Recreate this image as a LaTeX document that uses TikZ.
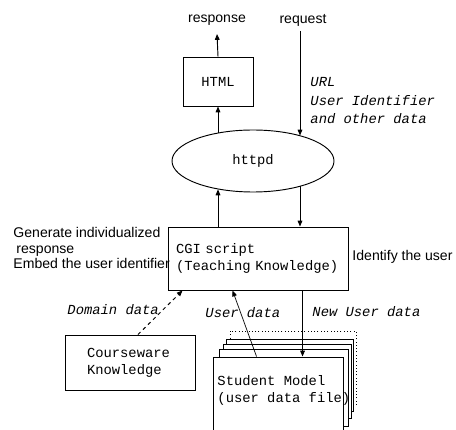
\documentclass[tikz,border=0pt]{standalone}
\usepackage{fontspec}
\setmainfont{Liberation Sans}
\setmonofont{Liberation Mono}
\usetikzlibrary{calc,shapes.geometric,arrows.meta}
\newlength\px
\setlength\px{0.03cm}

\begin{document}
\begin{tikzpicture}[x=\px, y=-\px, line width=0.8pt,
		arr/.style={-{Triangle[length=5pt,width=4pt]}},
		sanstext/.style={font=\fontsize{12}{13.4}\selectfont, inner sep=0pt},
		monotext/.style={font=\fontsize{11.8}{14.5}\selectfont\ttfamily, inner sep=0pt},
		monoslant/.style={font=\fontsize{11.8}{15.8}\selectfont\ttfamily\itshape, inner sep=0pt},
		box/.style={draw, fill=white, monotext}]
				\useasboundingbox (0,0) rectangle (456,430);
				\clip (0,0) rectangle (456,430);
				\node [box, minimum width=70\px, minimum height=49\px] (html) at (218,81.5) {HTML};
				\node [draw, ellipse, monotext, minimum width=162\px, minimum height=62\px] (httpd) at (253,161) {httpd};
				\node [box, minimum width=180\px, minimum height=63\px, text width=172\px, inner xsep=4\px, align=left] (cgi) at (258,258.5) {\hspace{4\px}CGI script\\\hspace{4\px}(Teaching Knowledge)};
				\node [box, minimum width=130\px, minimum height=55\px, text width=86\px, inner xsep=22\px, align=left] (course) at (130,362.5) {Courseware\\Knowledge};
				\draw [dotted, fill=white] (230,331) rectangle (356,405);
				\draw [fill=white] (226,339) rectangle (353,411);
				\draw [fill=white] (223,344) rectangle (351,418);
				\draw [fill=white] (219,349) rectangle (348,426);
				\node [box, minimum width=130\px, minimum height=88\px] (student) at (278,401) {};
				\node [monotext, anchor=north west, align=left] (stutext) at (217,375) {Student Model\\(user data file)};
				\node [sanstext] (resp) at (217,20) {response};
				\node [sanstext] (req) at (303,20) {request};
				\coordinate (resptip) at (217,34);
				\coordinate (reqtop) at (300,31);
				\node [monoslant, anchor=west, align=left] (urlinfo) at (310,101) {URL\\User Identifier\\and other data};
				\node [sanstext, anchor=west, align=left] (gen) at (13,248) {Generate individualized\\\hspace{3\px}response\\Embed the user identifier};
				\node [sanstext, anchor=west] (ident) at (352,257) {Identify the user};
				\node [monoslant, anchor=west] (domain) at (67,310) {Domain data};
				\node [monoslant, anchor=west] (userdata) at (205,313) {User data};
				\node [monoslant, anchor=west] (newdata) at (312,312) {New User data};
				\draw [arr] (html.north) -- (resptip);
				\draw [arr] (reqtop) -- (reqtop |- httpd.28);
				\draw [arr] (html.south |- httpd.141) -- (html.south);
				\draw [arr] (cgi.north -| html.south) -- (html.south |- httpd.219);
				\draw [arr] (reqtop |- httpd.332) -- (cgi.north -| reqtop);
				\draw [arr, dashed] ($(course.north)+(8,0)$) -- ($(cgi.south west)+(15,0)$);
				\draw [arr, line width=0.6pt] ($(student.north west)+(44,0)$) -- ($(cgi.south west)+(65,0)$);
				\draw [arr] ($(cgi.south west)+(135,0)$) -- ($(student.north west)+(90,0)$);
			\end{tikzpicture}
\end{document}
